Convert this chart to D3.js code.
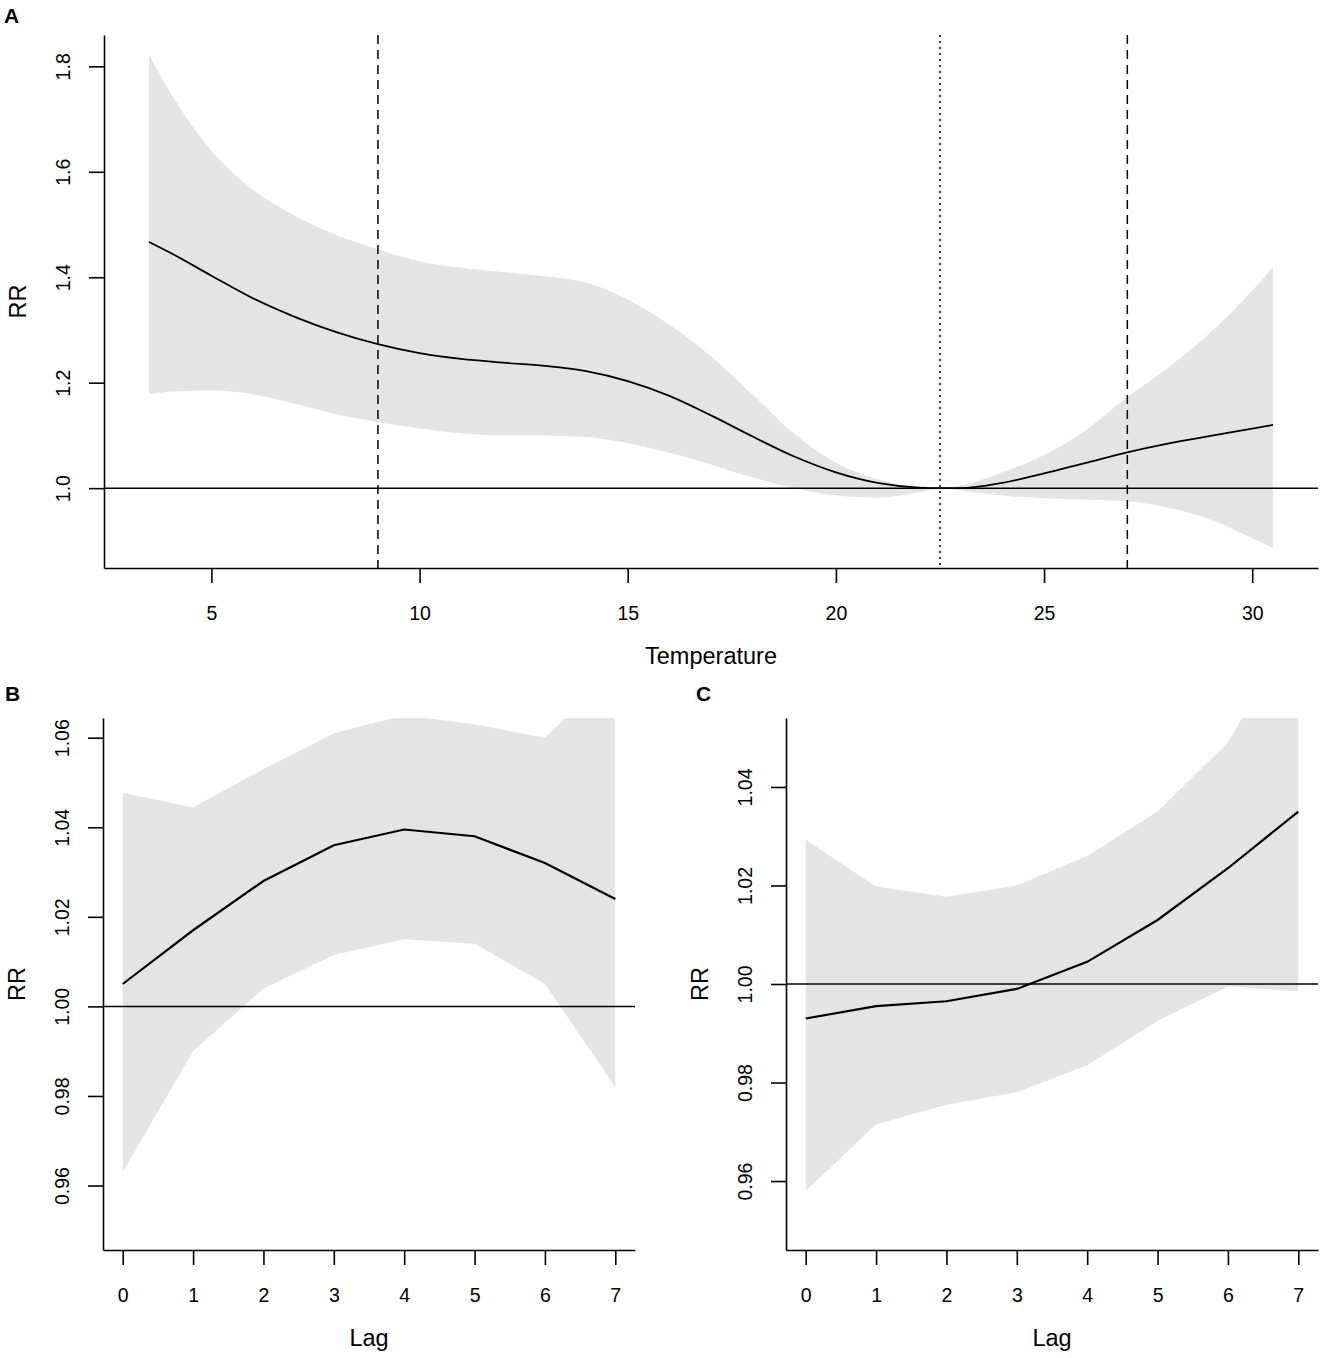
<!DOCTYPE html>
<html>
<head>
<meta charset="utf-8">
<script src="https://d3js.org/d3.v7.min.js"></script>
<style>
  body { margin: 0; background: #fff; }
  svg text { font-family: "Liberation Sans", Arial, sans-serif; fill: #000; }
</style>
</head>
<body>
<div class="chart"></div>
<script>
// panel A: overall cumulative exposure-response by temperature
const tempX = [3.5, 4, 5, 6, 7, 8, 9, 10, 11, 12, 13, 14, 15, 16, 17, 18, 19, 20, 21, 22, 22.5, 23, 24, 25, 26, 27, 28, 29, 30, 30.5];
const tempRR = [1.467, 1.447, 1.403, 1.36, 1.325, 1.296, 1.273, 1.256, 1.245, 1.238, 1.232, 1.222, 1.203, 1.175, 1.138, 1.098, 1.06, 1.03, 1.01, 1.001, 1.0, 1.0, 1.01, 1.028, 1.048, 1.068, 1.085, 1.099, 1.113, 1.12];
const tempLow = [1.178, 1.183, 1.185, 1.178, 1.16, 1.14, 1.125, 1.113, 1.104, 1.1, 1.1, 1.097, 1.085, 1.067, 1.045, 1.02, 1.0, 0.986, 0.982, 0.992, 1.0, 0.995, 0.986, 0.981, 0.978, 0.975, 0.963, 0.94, 0.905, 0.886];
const tempHigh = [1.822, 1.752, 1.64, 1.566, 1.517, 1.48, 1.453, 1.43, 1.418, 1.41, 1.402, 1.39, 1.358, 1.31, 1.25, 1.177, 1.103, 1.048, 1.017, 1.002, 1.0, 1.005, 1.03, 1.063, 1.11, 1.173, 1.23, 1.295, 1.375, 1.419];
const tempTicks = [5, 10, 15, 20, 25, 30];
const rrTicksA = [1.0, 1.2, 1.4, 1.6, 1.8];
const refLines = [9, 27];   // dashed
const mmt = 22.5;           // dotted

// panel B and C: lag-response
const lags = [0, 1, 2, 3, 4, 5, 6, 7];
const lagRR_B = [1.005, 1.017, 1.028, 1.036, 1.0395, 1.038, 1.032, 1.024];
const lagLow_B = [0.963, 0.990, 1.004, 1.0115, 1.015, 1.014, 1.005, 0.982];
const lagHigh_B = [1.0477, 1.0444, 1.053, 1.061, 1.065, 1.063, 1.060, 1.075];
const lagRR_C = [0.993, 0.9955, 0.9965, 0.999, 1.0045, 1.013, 1.0235, 1.035];
const lagLow_C = [0.958, 0.9715, 0.9755, 0.978, 0.9835, 0.9925, 0.9995, 0.9985];
const lagHigh_C = [1.0293, 1.0198, 1.0177, 1.020, 1.026, 1.035, 1.049, 1.074];
const ylimB = [0.95, 1.06];
const ylimC = [0.95, 1.05];
const rrTicksB = [0.96, 0.98, 1.00, 1.02, 1.04, 1.06];
const rrTicksC = [0.96, 0.98, 1.00, 1.02, 1.04];

const W = 1325, H = 1358;
const FS = 19.5;     // tick labels
const FL = 23.5;     // axis titles

const svg = d3.select('.chart').append('svg')
    .attr('width', W).attr('height', H);

// R style axis limits: 4% padding
function pad(ext) {
    const d = (ext[1] - ext[0]) * 0.04;
    return [ext[0] - d, ext[1] + d];
}

function panel(opt) {
    const {id, left, right, top, bottom, xDomain, yDomain, xTicks, yTicks, yFmt, xLabel, letter, letterPos, xs, mid, low, high, curve} = opt;
    const x = d3.scaleLinear().domain(xDomain).range([left, right]);
    const y = d3.scaleLinear().domain(yDomain).range([bottom, top]);
    const g = svg.append('g');

    g.append('clipPath').attr('id', 'clip' + id)
        .append('rect').attr('x', left).attr('y', top)
        .attr('width', right - left).attr('height', bottom - top);

    const plot = g.append('g').attr('clip-path', `url(#clip${id})`);
    const rows = xs.map((v, i) => ({x: v, m: mid[i], lo: low[i], hi: high[i]}));

    plot.append('path')
        .datum(rows)
        .attr('fill', '#e4e4e4')
        .attr('d', d3.area().curve(curve).x(d => x(d.x)).y0(d => y(d.lo)).y1(d => y(d.hi)));

    if (opt.vlines) {
        opt.vlines.forEach(v => {
            plot.append('line')
                .attr('x1', x(v.x)).attr('x2', x(v.x))
                .attr('y1', top).attr('y2', bottom)
                .attr('stroke', '#000').attr('stroke-width', 1.5)
                .attr('stroke-dasharray', v.dash);
        });
    }

    plot.append('line')
        .attr('x1', left).attr('x2', right)
        .attr('y1', y(1)).attr('y2', y(1))
        .attr('stroke', '#000').attr('stroke-width', 1.5);

    plot.append('path')
        .datum(rows)
        .attr('fill', 'none').attr('stroke', '#000').attr('stroke-width', opt.lw || 1.8)
        .attr('d', d3.line().curve(curve).x(d => x(d.x)).y(d => y(d.m)));

    const xAxis = g.append('g')
        .attr('transform', `translate(0,${bottom})`)
        .call(d3.axisBottom(x).tickValues(xTicks).tickSizeInner(15).tickSizeOuter(0).tickFormat(d3.format('d')));
    const yAxis = g.append('g')
        .attr('transform', `translate(${left},0)`)
        .call(d3.axisLeft(y).tickValues(yTicks).tickSizeInner(15).tickSizeOuter(0).tickFormat(d3.format(yFmt)));

    [xAxis, yAxis].forEach(a => {
        a.selectAll('path, line').attr('stroke', '#000').attr('stroke-width', 1.6);
        a.selectAll('text').attr('font-size', FS).attr('fill', '#000')
            .style('font-family', '"Liberation Sans", Arial, sans-serif');
    });
    xAxis.selectAll('text').attr('dy', '0.71em').attr('y', 38);
    yAxis.selectAll('.tick text')
        .attr('x', null).attr('dy', null).attr('y', 0)
        .attr('text-anchor', 'middle')
        .attr('transform', 'translate(-34,0) rotate(-90)');

    g.append('text')
        .attr('x', (left + right) / 2).attr('y', bottom + 96)
        .attr('text-anchor', 'middle').attr('font-size', FL)
        .text(xLabel);
    g.append('text')
        .attr('transform', `translate(${left - 78},${(top + bottom) / 2}) rotate(-90)`)
        .attr('text-anchor', 'middle').attr('font-size', FL)
        .text('RR');
    g.append('text')
        .attr('x', letterPos[0]).attr('y', letterPos[1])
        .attr('font-size', 21).attr('font-weight', 'bold')
        .text(letter);
}

panel({
    id: 'A', left: 104, right: 1318, top: 35, bottom: 568,
    xDomain: pad(d3.extent(tempX)),
    yDomain: pad([d3.min(tempLow), d3.max(tempHigh)]),
    xTicks: tempTicks, yTicks: rrTicksA, yFmt: '.1f',
    xLabel: 'Temperature', letter: 'A', letterPos: [4, 23],
    xs: tempX, mid: tempRR, low: tempLow, high: tempHigh,
    curve: d3.curveMonotoneX, lw: 1.8,
    vlines: [{x: refLines[0], dash: '9,6'}, {x: mmt, dash: '2,4'}, {x: refLines[1], dash: '9,6'}]
});

panel({
    id: 'B', left: 103, right: 635, top: 718, bottom: 1250,
    xDomain: pad(d3.extent(lags)), yDomain: pad(ylimB),
    xTicks: lags, yTicks: rrTicksB, yFmt: '.2f',
    xLabel: 'Lag', letter: 'B', letterPos: [5, 701],
    xs: lags, mid: lagRR_B, low: lagLow_B, high: lagHigh_B,
    curve: d3.curveLinear, lw: 2.2
});

panel({
    id: 'C', left: 786, right: 1318, top: 718, bottom: 1250,
    xDomain: pad(d3.extent(lags)), yDomain: pad(ylimC),
    xTicks: lags, yTicks: rrTicksC, yFmt: '.2f',
    xLabel: 'Lag', letter: 'C', letterPos: [696, 701],
    xs: lags, mid: lagRR_C, low: lagLow_C, high: lagHigh_C,
    curve: d3.curveLinear, lw: 2.2
});
</script>
</body>
</html>
